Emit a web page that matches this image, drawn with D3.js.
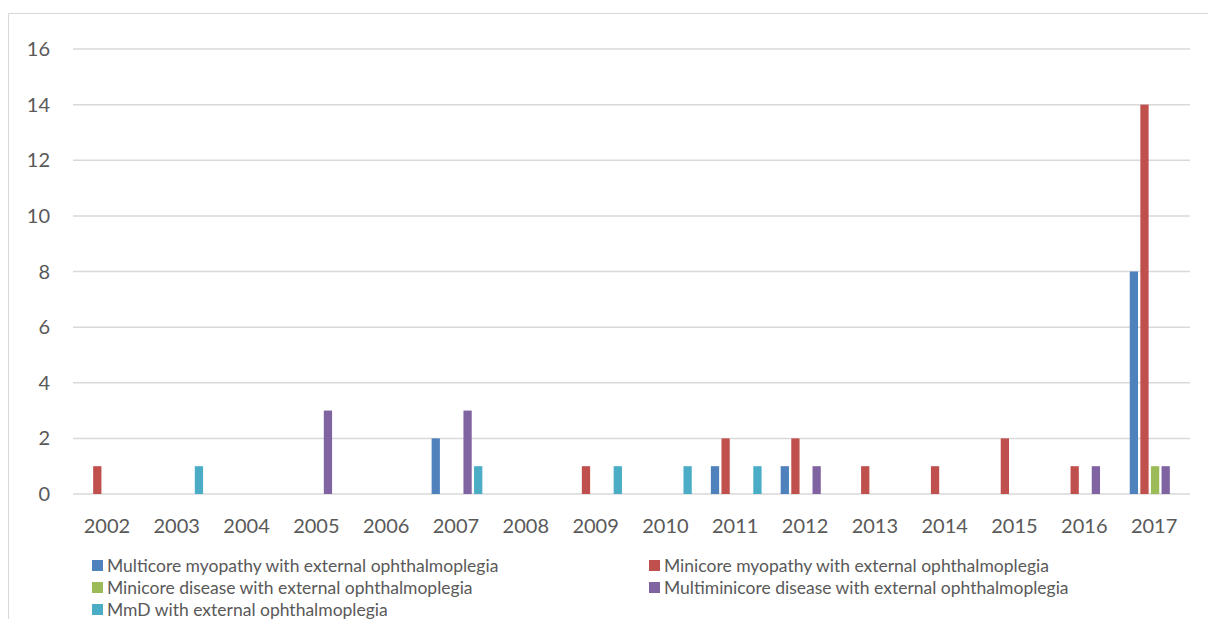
<!DOCTYPE html>
<html>
<head>
<meta charset="utf-8">
<script src="https://cdn.jsdelivr.net/npm/d3@7"></script>
<style>
body { margin: 0; background: #fff; }
text { font-family: Lato, "Open Sans", sans-serif; fill: #595959; }
</style>
</head>
<body>
<svg width="1208" height="619"></svg>
<script>
var years = ['2002','2003','2004','2005','2006','2007','2008','2009','2010','2011','2012','2013','2014','2015','2016','2017'];
var seriesNames = ['Multicore myopathy with external ophthalmoplegia', 'Minicore myopathy with external ophthalmoplegia', 'Minicore disease with external ophthalmoplegia', 'Multiminicore disease with external ophthalmoplegia', 'MmD with external ophthalmoplegia'];
var multicore    = [0,0,0,0,0,2,0,0,0,1,1,0,0,0,0,8];
var minicoreMyo  = [1,0,0,0,0,0,0,1,0,2,2,1,1,2,1,14];
var minicoreDis  = [0,0,0,0,0,0,0,0,0,0,0,0,0,0,0,1];
var multiminicore= [0,0,0,3,0,3,0,0,0,0,1,0,0,0,1,1];
var mmd          = [0,1,0,0,0,1,0,1,1,1,0,0,0,0,0,0];
var yTicks = [0,2,4,6,8,10,12,14,16];
var colors = ['#4F81BD','#C0504D','#9BBB59','#8064A2','#4BACC6'];

var allSeries = [multicore, minicoreMyo, minicoreDis, multiminicore, mmd];

var svg = d3.select('svg');
// chart border (only top and left are in view)
svg.append('path')
    .attr('d', 'M8.5,619V13.5H1208')
    .attr('fill', 'none').attr('stroke', '#d9d9d9');

var plot = {l: 73, r: 1190, t: 49, b: 494};
var xScale = d3.scaleBand().domain(years).range([plot.l, plot.r]);
var yScale = d3.scaleLinear().domain([0, 16]).range([plot.b, plot.t]);
var inner = d3.scaleBand().domain(d3.range(5))
    .range([0, xScale.bandwidth()])
    .paddingOuter(0.9).paddingInner(0.22);

// gridlines
svg.append('g').selectAll('line')
    .data(yTicks)
    .enter().append('line')
    .attr('x1', plot.l).attr('x2', plot.r)
    .attr('y1', function(d){ return yScale(d)}).attr('y2', function(d){ return yScale(d)})
    .attr('stroke', '#d9d9d9').attr('stroke-width', 1.5);

// y labels
svg.append('g').selectAll('text')
    .data(yTicks)
    .enter().append('text')
    .attr('x', 50)
    .attr('y', function(d){ return yScale(d) + 7})
    .attr('text-anchor', 'end')
    .style('font-size', '20px')
    .text(function(d){ return d});

// x labels
svg.append('g').selectAll('text')
    .data(years)
    .enter().append('text')
    .attr('x', function(d){ return xScale(d) + xScale.bandwidth()/2 - 1 })
    .attr('y', 533)
    .attr('text-anchor', 'middle')
    .style('font-size', '20px')
    .text(function(d){ return d});

// bars
var barData = [];
allSeries.forEach(function(s, si) {
    s.forEach(function(v, yi) {
        if (v > 0) barData.push({year: years[yi], s: si, value: v});
    });
});
svg.append('g').selectAll('rect')
    .data(barData)
    .enter().append('rect')
    .attr('x', function(d){ return xScale(d.year) + inner(d.s) })
    .attr('width', inner.bandwidth())
    .attr('y', function(d){ return yScale(d.value) })
    .attr('height', function(d){ return yScale(0) - yScale(d.value) })
    .attr('fill', function(d){ return colors[d.s] });

// legend
var legendPos = [[92, 566], [649, 566], [92, 588], [649, 588], [92, 610]];
var legendG = svg.append('g').selectAll('g')
    .data(seriesNames)
    .enter().append('g')
    .attr('transform', function(d,i){ return 'translate('+legendPos[i]+')' });
legendG.append('rect')
    .attr('x', 0).attr('y', -6)
    .attr('width', 11).attr('height', 11)
    .attr('fill', function(d,i){ return colors[i] });
legendG.append('text')
    .attr('x', 15).attr('y', 6)
    .style('font-size', '17.5px')
    .text(function(d){ return d });
</script>
</body>
</html>
